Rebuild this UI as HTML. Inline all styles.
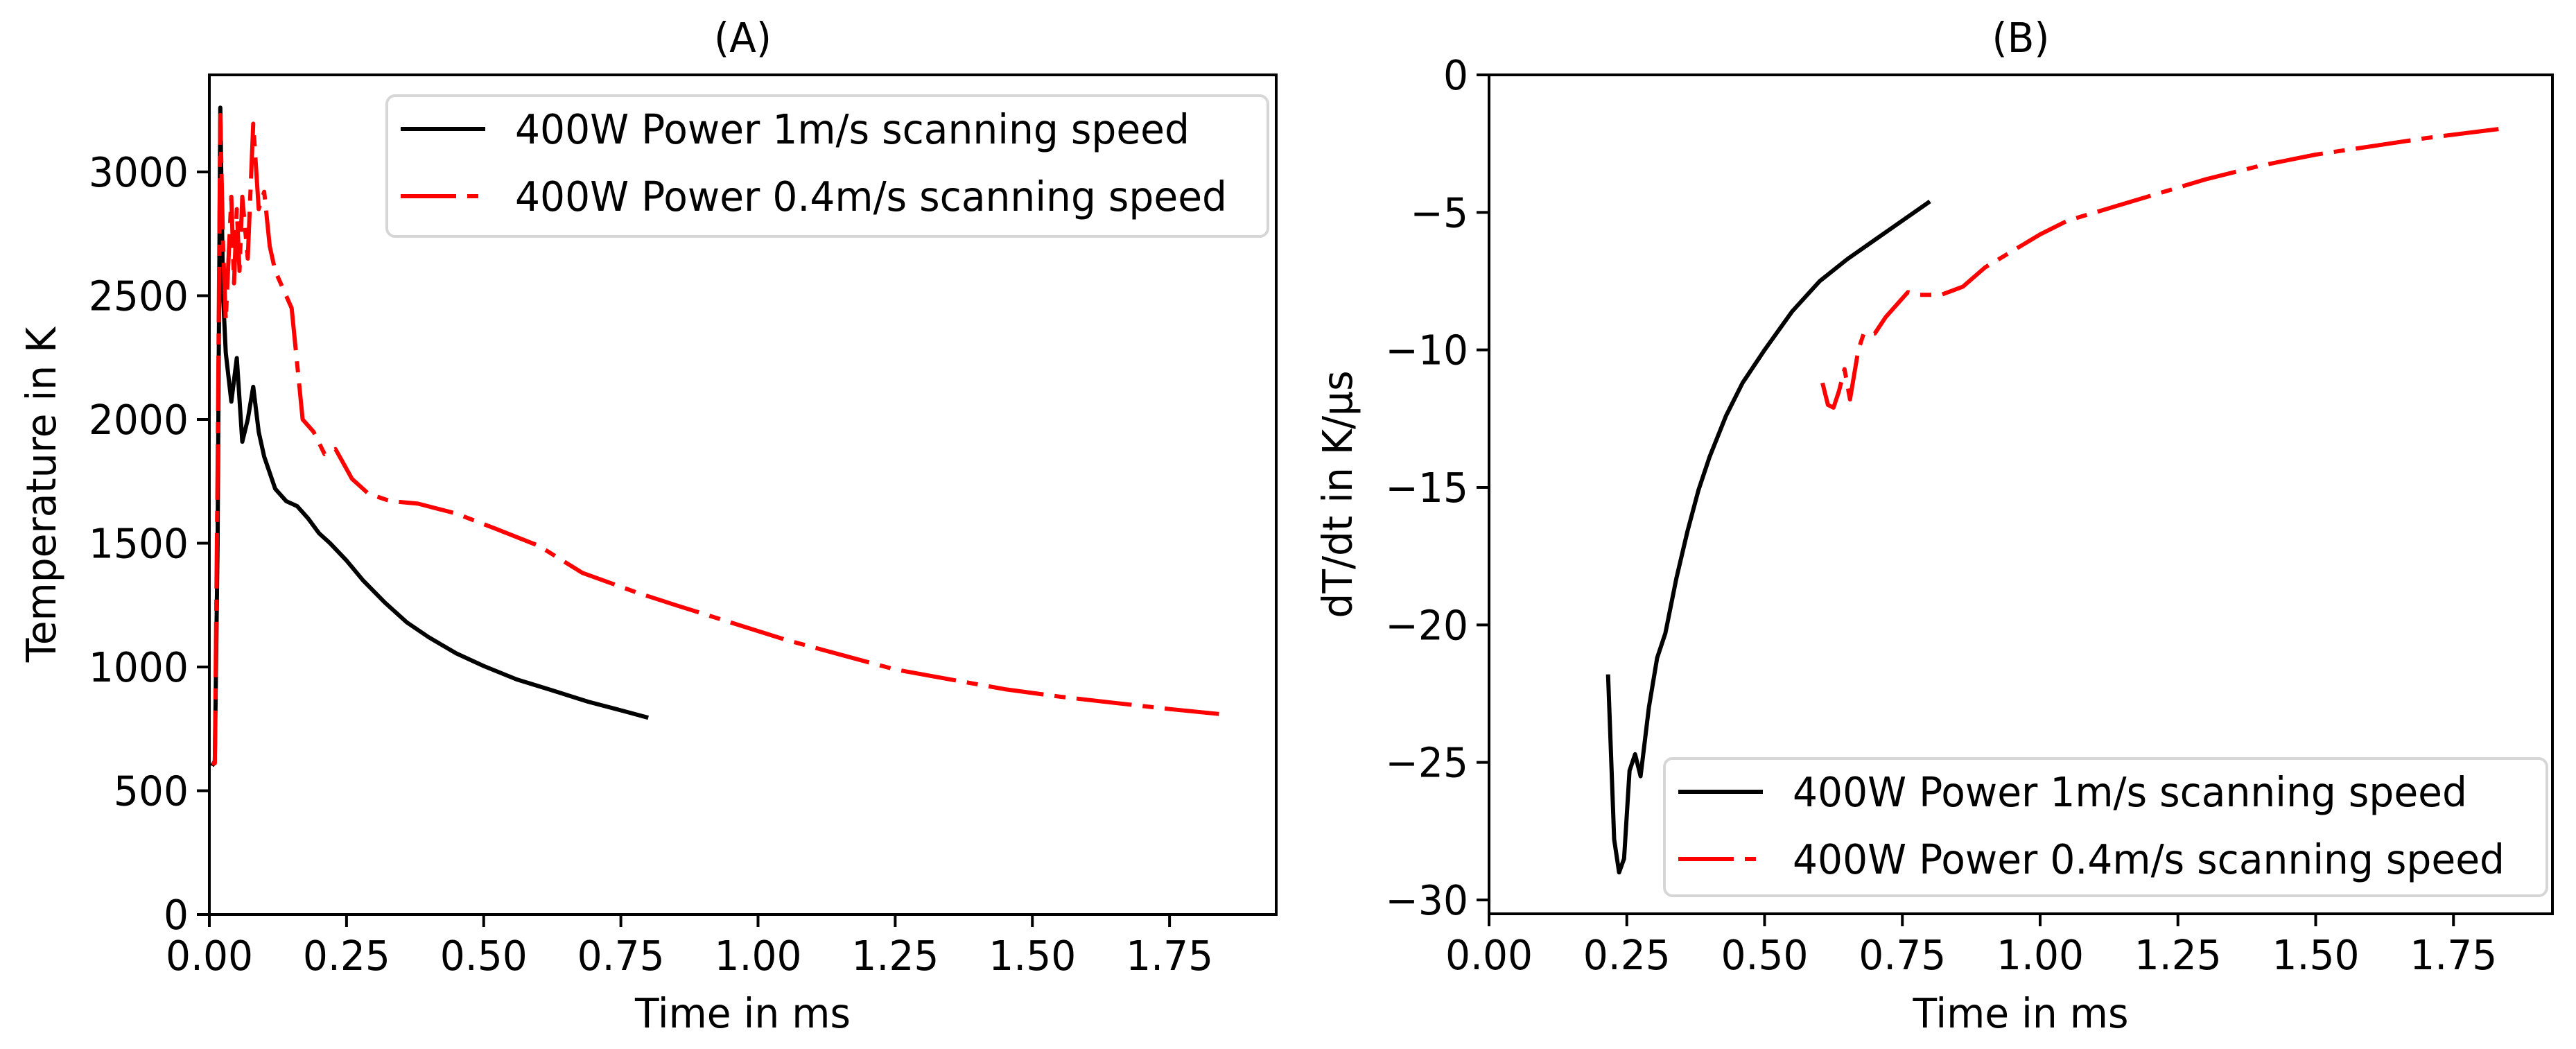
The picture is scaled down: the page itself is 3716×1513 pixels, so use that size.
<!DOCTYPE html>
<html><head><meta charset="utf-8">
<style>
html,body{margin:0;padding:0;background:#fff;}
svg{display:block;font-family:"DejaVu Sans","Liberation Sans",sans-serif;}
</style></head>
<body>
<svg id="fig" width="3716" height="1513" viewBox="0 0 3716 1513" xmlns="http://www.w3.org/2000/svg">
<rect x="0" y="0" width="3716" height="1513" fill="#fff"/>
</svg>
<script>
// Panel A data: temperature vs time
const aBlackT = [0.005,0.01,0.015,0.02,0.025,0.03,0.04,0.05,0.06,0.07,0.08,0.09,0.10,0.12,0.14,0.16,0.18,0.20,0.22,0.25,0.28,0.32,0.36,0.40,0.45,0.50,0.56,0.62,0.69,0.75,0.80];
const aBlackV = [600,620,1500,3260,2500,2269,2072,2248,1910,2000,2132,1950,1850,1720,1670,1650,1600,1540,1500,1430,1350,1260,1180,1120,1055,1004,950,909,860,825,795];
const aRedT = [0.005,0.01,0.015,0.02,0.025,0.03,0.04,0.045,0.05,0.055,0.06,0.07,0.08,0.09,0.10,0.11,0.12,0.14,0.15,0.17,0.19,0.21,0.23,0.26,0.29,0.33,0.38,0.45,0.52,0.60,0.68,0.78,0.85,0.95,1.05,1.15,1.25,1.35,1.45,1.55,1.65,1.75,1.84];
const aRedV = [610,611,1800,3230,2700,2400,2900,2550,2850,2600,2900,2650,3195,2850,2920,2700,2600,2500,2450,2000,1950,1860,1880,1760,1700,1670,1660,1620,1560,1490,1380,1300,1250,1180,1110,1050,990,950,910,880,855,830,810];
// Panel B data: dT/dt vs time
const bBlackT = [0.216,0.227,0.236,0.245,0.255,0.265,0.275,0.29,0.305,0.32,0.34,0.36,0.38,0.40,0.43,0.46,0.50,0.55,0.60,0.65,0.70,0.75,0.80];
const bBlackV = [-21.8,-27.8,-29,-28.5,-25.3,-24.7,-25.5,-23,-21.2,-20.3,-18.3,-16.6,-15.1,-13.9,-12.4,-11.2,-10,-8.6,-7.5,-6.7,-6,-5.3,-4.6];
const bRedT = [0.605,0.615,0.625,0.635,0.645,0.655,0.67,0.68,0.70,0.72,0.76,0.78,0.80,0.82,0.86,0.90,0.95,1.0,1.05,1.1,1.2,1.3,1.4,1.5,1.6,1.7,1.84];
const bRedV = [-11.2,-12,-12.1,-11.5,-10.7,-11.8,-10,-9.4,-9.4,-8.8,-7.9,-8,-8,-8,-7.7,-7,-6.4,-5.8,-5.3,-5,-4.4,-3.8,-3.3,-2.9,-2.6,-2.3,-1.95];
const xTicks = [0,0.25,0.5,0.75,1.0,1.25,1.5,1.75];
const xTickLabels = ["0.00","0.25","0.50","0.75","1.00","1.25","1.50","1.75"];
const aYTicks = [0,500,1000,1500,2000,2500,3000];
const bYTicks = [0,-5,-10,-15,-20,-25,-30];
const bYTickLabels = ["0","\u22125","\u221210","\u221215","\u221220","\u221225","\u221230"];

const NS = "http://www.w3.org/2000/svg";
const svg = document.getElementById('fig');
function mk(tag, attrs, parent){const e=document.createElementNS(NS,tag);for(const k in attrs)e.setAttribute(k,attrs[k]);(parent||svg).appendChild(e);return e;}
const DASH = "80 16 16 16";
const FS = 59;
const SX = 0.96;
function txt(parent, x, y, anchor, str, rot){
  const tr = rot ? `translate(${x} ${y}) rotate(-90) scale(${SX} 1)` : `translate(${x} ${y}) scale(${SX} 1)`;
  const t = mk('text',{x:0,y:0,'text-anchor':anchor,'font-size':FS,fill:'#000',transform:tr},parent);
  t.textContent = str;
  return t;
}

function panel(cfg){
  const g = mk('g',{});
  
  
  const sx = v => cfg.L + v * cfg.pxPerX;
  const sy = v => cfg.y0px - (v - cfg.y0val) * cfg.pxPerY;
  function series(ts, vs, color, dash, nm){
    const pts = ts.map((t,i)=> sx(t).toFixed(1)+','+sy(vs[i]).toFixed(1)).join(' ');
    const p = mk('polyline',{points:pts,fill:'none',stroke:color,'stroke-width':6,'stroke-linejoin':'round'},g);
    if(dash) p.setAttribute('stroke-dasharray', dash);
    
    
  }
  series(cfg.bt, cfg.bv, '#000', null, cfg.name+'-series-1ms');
  series(cfg.rt, cfg.rv, '#ff0000', DASH, cfg.name+'-series-0.4ms');
  const fr = mk('rect',{x:cfg.L,y:cfg.T,width:cfg.R-cfg.L,height:cfg.B-cfg.T,fill:'none',stroke:'#000','stroke-width':4},g);
  
  
  xTicks.forEach((v,i)=>{
    const x = sx(v);
    mk('line',{x1:x,x2:x,y1:cfg.B,y2:cfg.B+18,stroke:'#000','stroke-width':4},g);
    const t = txt(g, x, cfg.B+80, 'middle', xTickLabels[i]);
    
    
  });
  cfg.yTicks.forEach((v,i)=>{
    const y = sy(v);
    mk('line',{x1:cfg.L-18,x2:cfg.L,y1:y,y2:y,stroke:'#000','stroke-width':4},g);
    const t = txt(g, cfg.L-30, y+21, 'end', cfg.yLabels[i]);
    
    
  });
  const cx = (cfg.L+cfg.R)/2;
  const ti = txt(g, cx, 75, 'middle', cfg.title);
  
  
  const xl = txt(g, cx, 1482, 'middle', 'Time in ms');
  
  
  const ym = (cfg.T+cfg.B)/2;
  const yl = txt(g, cfg.yLabX, ym, 'middle', cfg.yTitle, true);
  
  
  const lg = mk('g',{},g);
  
  
  const Lx=cfg.leg[0], Ly=cfg.leg[1], Lw=cfg.leg[2], Lh=cfg.leg[3];
  mk('rect',{x:Lx,y:Ly,width:Lw,height:Lh,rx:12,fill:'#fff','fill-opacity':0.8,stroke:'#d6d6d6','stroke-width':4},lg);
  const rows=[['#000',null,'400W Power 1m/s scanning speed'],['#ff0000',DASH,'400W Power 0.4m/s scanning speed']];
  rows.forEach((r,i)=>{
    const y = Ly+48+i*97;
    const ln = mk('line',{x1:Lx+20,x2:Lx+142,y1:y,y2:y,stroke:r[0],'stroke-width':6},lg);
    if(r[1]) ln.setAttribute('stroke-dasharray', r[1]);
    const t = txt(lg, Lx+185, y+21, 'start', r[2]);
    
    
  });
}

panel({name:'panel-a',L:302,R:1841,T:108,B:1319,pxPerX:791.5,y0px:1319,y0val:0,pxPerY:1071/3000,
  bt:aBlackT,bv:aBlackV,rt:aRedT,rv:aRedV,yTicks:aYTicks,yLabels:aYTicks.map(String),
  title:'(A)',yTitle:'Temperature in K',yLabX:80,leg:[558,138,1271,203]});
panel({name:'panel-b',L:2148,R:3682,T:108,B:1318,pxPerX:795,y0px:108,y0val:0,pxPerY:1190/30,
  bt:bBlackT,bv:bBlackV,rt:bRedT,rv:bRedV,yTicks:bYTicks,yLabels:bYTickLabels,
  title:'(B)',yTitle:'dT/dt in K/\u00b5s',yLabX:1950,leg:[2401,1094,1273,198]});
</script>
</body></html>
